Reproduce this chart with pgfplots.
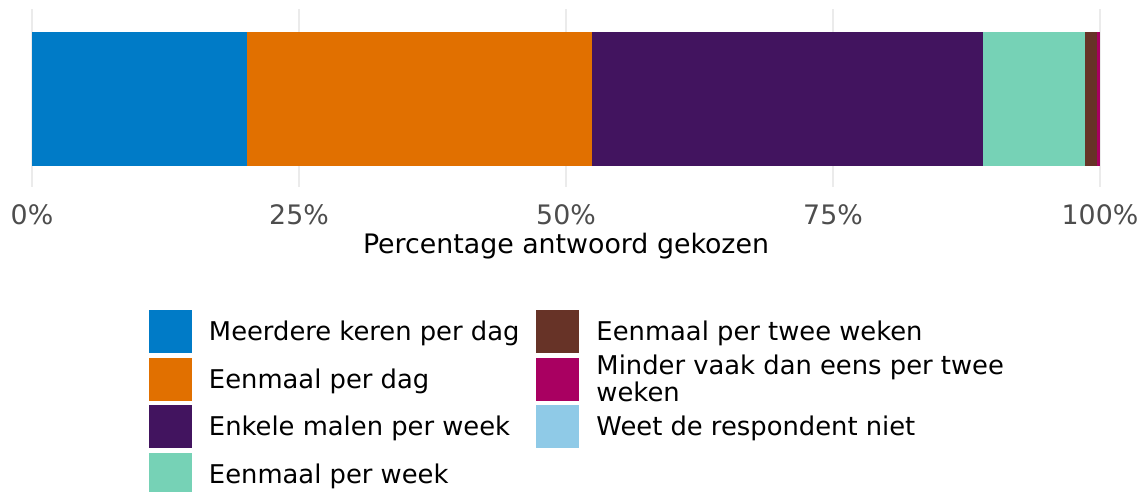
\documentclass[border=0pt]{standalone}
\usepackage{fontspec}
\setmainfont{DejaVu Sans}
\usepackage{pgfplots}
\pgfplotsset{compat=1.18}
\definecolor{hemel}{HTML}{007BC7}
\definecolor{oranje}{HTML}{E17000}
\definecolor{violet}{HTML}{42145F}
\definecolor{mint}{HTML}{76D2B6}
\definecolor{bruin}{HTML}{673327}
\definecolor{paars}{HTML}{A90061}
\definecolor{lichtblauw}{HTML}{8FCAE7}
\definecolor{gridc}{HTML}{EBEBEB}
\definecolor{tickc}{HTML}{4D4D4D}
\pgfplotsset{sqleg/.style={legend image code/.code={\fill[##1] (0pt,-21.5pt) rectangle (43pt,21.5pt);}}}
\newcommand{\txt}{\fontsize{25.8}{27}\selectfont}
\newcommand{\lbl}{\fontsize{26.8}{28}\selectfont}

\begin{document}
\begin{tikzpicture}[x=1pt,y=1pt]
\useasboundingbox (0,0) rectangle (1146,492);
\begin{axis}[
  at={(32pt,305pt)}, anchor=south west,
  width=1068pt, height=178pt, scale only axis,
  xbar stacked, bar width=134pt,
  xmin=0, xmax=100, ymin=0, ymax=178,
  xtick={0,25,50,75,100}, xticklabels={0\%,25\%,50\%,75\%,100\%},
  ytick=\empty,
  axis line style={draw=none}, major tick length=0pt,
  xmajorgrids, grid style={gridc, line width=2.6pt},
  tick label style={font=\lbl, color=tickc},
  xticklabel style={anchor=center, yshift=-28pt},
  xlabel={Percentage antwoord gekozen},
  xlabel style={font=\lbl, at={(axis description cs:0.5,0)}, anchor=center, yshift=-59pt},
  legend columns=2,
  legend cell align=left,
  legend style={at={(axis description cs:0.10955,-0.69101)}, anchor=north west,
    draw=none, fill=none, inner sep=0pt, outer sep=0pt,
    row sep=4.7pt, column sep=17pt, font=\txt, nodes={inner sep=0pt}},
]
% percentages per answer category
\addplot[fill=hemel, draw=none, forget plot] coordinates {(20.1,88)};
\addplot[fill=oranje, draw=none, forget plot] coordinates {(32.3,88)};
\addplot[fill=violet, draw=none, forget plot] coordinates {(36.6,88)};
\addplot[fill=mint, draw=none, forget plot] coordinates {(9.6,88)};
\addplot[fill=bruin, draw=none, forget plot] coordinates {(1.1,88)};
\addplot[fill=paars, draw=none, forget plot] coordinates {(0.3,88)};
\addplot[fill=lichtblauw, draw=none, forget plot] coordinates {(0,88)};

% legend, row by row
\addlegendimage{sqleg, fill=hemel, draw=none}
\addlegendentry{Meerdere keren per dag}
\addlegendimage{sqleg, fill=bruin, draw=none}
\addlegendentry{Eenmaal per twee weken}
\addlegendimage{sqleg, fill=oranje, draw=none}
\addlegendentry{Eenmaal per dag}
\addlegendimage{sqleg, fill=paars, draw=none}
\addlegendentry{\raisebox{-23pt}[0pt][0pt]{\vbox{\baselineskip=27pt\hbox{Minder vaak dan eens per twee}\hbox{weken}}}}
\addlegendimage{sqleg, fill=violet, draw=none}
\addlegendentry{Enkele malen per week}
\addlegendimage{sqleg, fill=lichtblauw, draw=none}
\addlegendentry{Weet de respondent niet}
\addlegendimage{sqleg, fill=mint, draw=none}
\addlegendentry{Eenmaal per week}
\end{axis}
\end{tikzpicture}
\end{document}
